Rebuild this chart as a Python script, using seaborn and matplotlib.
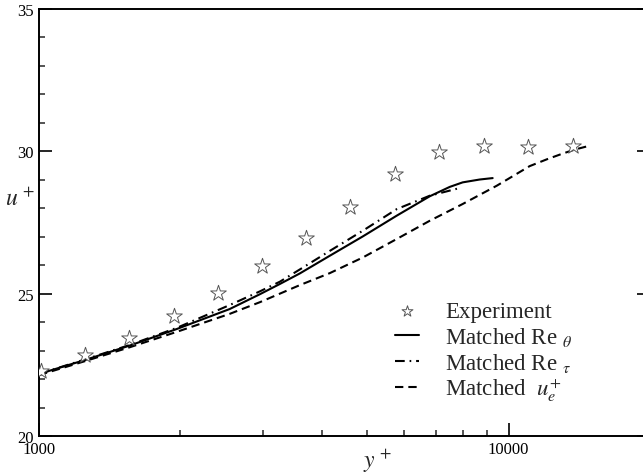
import matplotlib
matplotlib.use("Agg")
import matplotlib.pyplot as plt
import matplotlib.ticker as mticker
import seaborn as sns
import pandas as pd

# Experimental mean-velocity profile
exp_yplus = [1010, 1250, 1555, 1935, 2405, 2980, 3700, 4590, 5720, 7100, 8850, 10980, 13680]
exp_uplus = [22.29, 22.85, 23.44, 24.23, 25.02, 25.98, 26.95, 28.03, 29.20, 29.99, 30.20, 30.16, 30.18]

# Simulation matched on Re_theta
retheta_yplus = [1000, 1253, 1562, 1966, 2547, 2953, 3257, 3592, 4159, 4891,
                 5777, 6791, 7491, 7983, 8677, 9247]
retheta_uplus = [22.18, 22.67, 23.18, 23.76, 24.46, 24.98, 25.34, 25.71, 26.33, 27.01,
                 27.74, 28.42, 28.75, 28.91, 29.01, 29.06]

# Simulation matched on Re_tau
retau_yplus = [1000, 1253, 1562, 1966, 2547, 2953, 3257, 3592, 4159, 4891,
               5777, 6791, 7865]
retau_uplus = [22.18, 22.69, 23.20, 23.80, 24.60, 25.08, 25.42, 25.85, 26.50, 27.21,
               27.97, 28.44, 28.71]

# Simulation matched on edge velocity u_e+
ue_yplus = [1000, 1253, 1562, 1966, 2547, 2953, 3257, 3592, 4159, 4891, 5777,
            6791, 7983, 9430, 11085, 12106, 13027, 13816, 14655]
ue_uplus = [22.14, 22.63, 23.12, 23.66, 24.29, 24.70, 25.00, 25.30, 25.72, 26.27, 26.92,
            27.56, 28.15, 28.79, 29.48, 29.73, 29.92, 30.06, 30.17]

x_major = [1000, 10000]
x_minor = [2000, 3000, 4000, 5000, 6000, 7000, 8000, 9000]
x_ticklabels = ["1000", "10000"]

labels = ["Experiment",
          r"Matched Re ${}_{\theta}$",
          r"Matched Re ${}_{\tau}$",
          r"Matched  $u_e^{+}$"]

sns.set_theme(style="ticks")
plt.rcParams["font.family"] = ["Liberation Serif", "DejaVu Serif"]
plt.rcParams["mathtext.fontset"] = "stix"
plt.rcParams["lines.scale_dashes"] = False

fig = plt.figure(figsize=(6.43, 4.77), dpi=100)
ax = fig.add_axes([39 / 643, 1 - 437 / 477, 611 / 643, 427 / 477])

df_exp = pd.DataFrame({"yplus": exp_yplus, "uplus": exp_uplus})
df_th = pd.DataFrame({"yplus": retheta_yplus, "uplus": retheta_uplus})
df_tau = pd.DataFrame({"yplus": retau_yplus, "uplus": retau_uplus})
df_ue = pd.DataFrame({"yplus": ue_yplus, "uplus": ue_uplus})

sns.scatterplot(data=df_exp, x="yplus", y="uplus", ax=ax, marker="*", s=140,
                facecolor="white", edgecolor="#555555", linewidth=0.7,
                label=labels[0], zorder=3)
sns.lineplot(data=df_th, x="yplus", y="uplus", ax=ax, color="black", lw=1.5,
             linestyle="-", label=labels[1], sort=False)
sns.lineplot(data=df_tau, x="yplus", y="uplus", ax=ax, color="black", lw=1.5,
             linestyle=(0, (7, 3.5, 1.2, 3.5)), label=labels[2], sort=False)
sns.lineplot(data=df_ue, x="yplus", y="uplus", ax=ax, color="black", lw=1.5,
             linestyle=(0, (6, 3.6)), label=labels[3], sort=False)

ax.set_xscale("log")
ax.set_xlim(1000, 20000)
ax.set_ylim(20, 35)
ax.xaxis.set_major_locator(mticker.FixedLocator(x_major))
ax.xaxis.set_major_formatter(mticker.FixedFormatter(x_ticklabels))
ax.xaxis.set_minor_locator(mticker.FixedLocator(x_minor))
ax.xaxis.set_minor_formatter(mticker.NullFormatter())
ax.yaxis.set_major_locator(mticker.MultipleLocator(5))
ax.yaxis.set_minor_locator(mticker.MultipleLocator(1))

for side in ax.spines.values():
    side.set_linewidth(1.4)
    side.set_color("black")
ax.tick_params(which="major", direction="in", length=9.5, width=1.2,
               labelsize=12, colors="black", right=True, top=False)
ax.tick_params(which="minor", direction="in", length=4.5, width=1.1,
               right=True, top=False)
ax.tick_params(axis="y", which="major", pad=4)
ax.tick_params(axis="x", which="major", pad=3.5)

ax.set_xlabel(r"$y^{\,+}$", fontsize=17)
ax.set_ylabel(r"$u^{\,+}$", fontsize=17, rotation=0)
ax.xaxis.set_label_coords(0.555, -0.058)
ax.yaxis.set_label_coords(-0.03, 0.555)
ax.yaxis.label.set_va("center")
ax.xaxis.label.set_va("center")

handles, hlabels = ax.get_legend_handles_labels()
ax.legend(handles, hlabels, loc="upper left", bbox_to_anchor=(0.5827, 0.316),
          frameon=False, fontsize=16.5, borderpad=0, borderaxespad=0,
          handlelength=1.05, handletextpad=1.15, labelspacing=0.12,
          markerscale=0.7)

fig.savefig("out.png", dpi=100)
